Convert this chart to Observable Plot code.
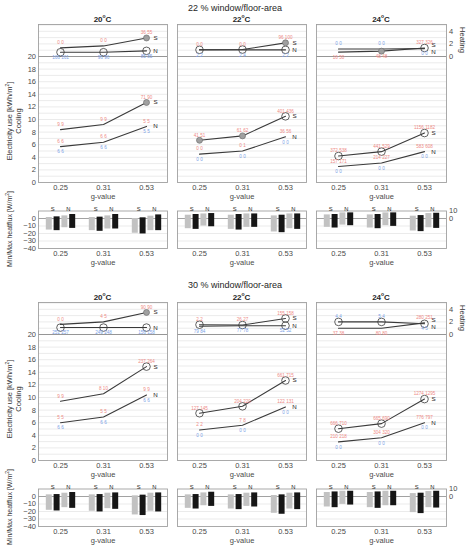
<!DOCTYPE html>
<html><head><meta charset="utf-8">
<script src="https://cdn.jsdelivr.net/npm/d3@7"></script>
<script src="https://cdn.jsdelivr.net/npm/@observablehq/plot@0.6"></script>
<style>
html,body{margin:0;padding:0;background:#fff;}
#root{position:relative;width:469px;height:550px;overflow:hidden;font-family:"Liberation Sans",Arial,Helvetica,sans-serif;color:#262626;}
#root svg{position:absolute;left:0;}
.lbl{position:absolute;white-space:nowrap;line-height:1.15;text-align:center;}
</style></head><body><div id="root"></div>
<script>
// ---------------- data ----------------
const gValues = ["0.25", "0.31", "0.53"];
const temperatures = ["20", "22", "24"];
const areaTitles = ["22 % window/floor-area", "30 % window/floor-area"];
const barKinds = ["S-min/max-a", "S-min/max-b", "N-min/max-a", "N-min/max-b"];

// electricity use [kWh/m²], rows = 20/22/24 °C, columns = g-value
const heatS22 = [[1.37, 1.68, 2.94], [1.06, 1.1, 2.17], [0.7, 0.85, 1.35]];
const heatN22 = [[0.68, 0.68, 0.9], [1.06, 1.06, 1.06], [1.2, 1.2, 1.25]];
const coolS22 = [[8.4, 9.2, 12.7], [6.7, 7.4, 10.5], [4.2, 4.9, 7.85]];
const coolN22 = [[5.7, 6.4, 8.9], [4.5, 5.0, 7.25], [2.55, 3.1, 4.9]];
const heatS30 = [[1.6, 2.0, 3.5], [1.55, 1.5, 2.55], [1.0, 1.0, 1.85]];
const heatN30 = [[1.1, 1.1, 1.1], [1.3, 1.4, 1.4], [2.0, 2.0, 1.7]];
const coolS30 = [[9.4, 10.6, 14.9], [7.5, 8.6, 12.7], [5.05, 5.85, 9.75]];
const coolN30 = [[6.0, 6.9, 10.4], [4.85, 5.6, 8.5], [2.95, 3.6, 6.0]];

// point markers: o = open circle, f = filled, - = none
const mkHeatS22 = [["-", "-", "f"], ["o", "o", "f"], ["-", "f", "o"]];
const mkHeatN22 = [["o", "o", "o"], ["-", "-", "o"], ["-", "-", "-"]];
const mkCoolS22 = [["-", "-", "f"], ["f", "f", "o"], ["o", "o", "o"]];
const mkHeatS30 = [["-", "-", "f"], ["o", "o", "o"], ["-", "-", "-"]];
const mkHeatN30 = [["o", "o", "o"], ["-", "-", "o"], ["o", "o", "o"]];
const mkCoolS30 = [["-", "-", "o"], ["o", "o", "o"], ["o", "o", "o"]];

// small point annotations (red = S-type, blue = N-type)
const labHeatS22 = [["0 0", "0 0", "36 55"], ["0 0", "0 0", "96 100"], ["16 50", "48 48", "327 326"]];
const labHeatN22 = [["166 161", "96 96", "85 85"], ["2 2", "2 4", "2 2"], ["0 0", "0 0", "0 0"]];
const labCoolS22 = [["9 9", "9 9", "71 90"], ["41 51", "61 62", "401 436"], ["372 538", "441 529", "1156 1182"]];
const labCoolNr22 = [["6 6", "6 6", "5 5"], ["0 0", "0 1", "36 56"], ["157 171", "214 227", "583 608"]];
const labCoolNb22 = [["6 6", "6 6", "5 5"], ["0 0", "0 0", "0 0"], ["0 0", "0 0", "0 0"]];
const labHeatS30 = [["0 0", "4 5", "90 90"], ["2 2", "26 27", "155 158"], ["37 38", "80 80", "280 251"]];
const labHeatN30 = [["251 257", "249 248", "156 158"], ["79 84", "77 78", "52 52"], ["4 4", "5 4", "4 5"]];
const labCoolS30 = [["9 9", "8 10", "237 264"], ["127 145", "204 220", "661 715"], ["666 710", "665 690", "1274 1295"]];
const labCoolNr30 = [["5 5", "5 5", "9 9"], ["2 2", "7 8", "122 131"], ["210 218", "304 320", "776 797"]];
const labCoolNb30 = [["6 6", "6 6", "6 6"], ["0 0", "0 0", "0 0"], ["0 0", "0 0", "0 0"]];

// min/max heat flux [W/m²]: [temperature][g-value][S-a, S-b, N-a, N-b]
const fluxMax22 = [
  [[1.3, 2.2, 3.5, 5.3], [1.3, 1.8, 3.5, 5.3], [0, 0.9, 3.1, 4.8]],
  [[4.4, 5.3, 6.1, 6.6], [4.4, 5.3, 6.1, 6.1], [3.5, 4.4, 6.1, 6.1]],
  [[4.8, 5.3, 7.5, 7.5], [4.8, 5.3, 7.5, 7.5], [3.1, 3.9, 6.6, 7.0]]];
const fluxMin22 = [
  [[-15.4, -16.2, -12.3, -13.2], [-16.2, -17.1, -14.0, -14.0], [-19.7, -20.6, -16.2, -16.2]],
  [[-13.6, -14.5, -10.1, -11.0], [-14.5, -15.4, -11.8, -11.8], [-18.0, -18.9, -13.6, -14.5]],
  [[-11.8, -12.7, -8.8, -9.6], [-12.7, -13.6, -9.6, -10.5], [-16.7, -17.5, -12.3, -13.2]]];
const fluxMax30 = [
  [[2.2, 2.6, 4.4, 5.3], [2.2, 2.6, 4.4, 4.8], [0.9, 1.8, 4.4, 4.8]],
  [[2.2, 2.6, 4.8, 5.7], [2.2, 2.6, 4.4, 4.8], [1.3, 2.2, 4.4, 4.8]],
  [[5.3, 6.1, 7.0, 7.0], [5.3, 6.1, 7.0, 7.0], [3.9, 4.4, 6.6, 7.0]]];
const fluxMin30 = [
  [[-18.4, -19.3, -14.9, -15.8], [-19.7, -20.6, -16.2, -17.1], [-24.6, -25.4, -19.7, -20.6]],
  [[-15.8, -16.7, -12.3, -13.2], [-16.7, -17.5, -13.2, -14.0], [-22.4, -23.7, -16.7, -17.5]],
  [[-14.0, -14.9, -10.5, -11.4], [-14.9, -15.8, -12.3, -12.3], [-21.5, -22.8, -14.9, -15.4]]];

// ---------------- layout ----------------
const halves = [
  {title: areaTitles[0], heatS: heatS22, heatN: heatN22, coolS: coolS22, coolN: coolN22,
   mkHeatS: mkHeatS22, mkHeatN: mkHeatN22, mkCoolS: mkCoolS22,
   labHeatS: labHeatS22, labHeatN: labHeatN22, labCoolS: labCoolS22, labCoolNr: labCoolNr22, labCoolNb: labCoolNb22,
   fluxMax: fluxMax22, fluxMin: fluxMin22},
  {title: areaTitles[1], heatS: heatS30, heatN: heatN30, coolS: coolS30, coolN: coolN30,
   mkHeatS: mkHeatS30, mkHeatN: mkHeatN30, mkCoolS: mkCoolS30,
   labHeatS: labHeatS30, labHeatN: labHeatN30, labCoolS: labCoolS30, labCoolNr: labCoolNr30, labCoolNb: labCoolNb30,
   fluxMax: fluxMax30, fluxMin: fluxMin30}
];

const root = document.getElementById("root");
const W = 469;
const colX = [[38, 167], [177, 306], [316, 446]];
const halfOffset = [0, 277.5];
const FONT = '"Liberation Sans", Arial, Helvetica, sans-serif';
const RED = "#ee8a86", BLUE = "#7b9fe6";
const HEAT_OFFSET = 20;
const TICK = "#4a4a4a";

function addLabel(html, cx, cy, o = {}) {
  const d = document.createElement("div");
  d.className = "lbl";
  d.innerHTML = html;
  d.style.left = cx + "px";
  d.style.top = cy + "px";
  d.style.fontSize = (o.size || 7.5) + "px";
  d.style.fontWeight = o.bold ? "bold" : "normal";
  d.style.color = o.color || "#262626";
  d.style.transform = `translate(-50%,-50%) rotate(${o.rotate || 0}deg)`;
  root.appendChild(d);
}

function place(svg, top) {
  svg.style.top = top + "px";
  root.appendChild(svg);
}

const plotStyle = {background: "transparent", fontFamily: FONT, fontSize: "7.5px", color: TICK, overflow: "visible"};

function linePanel(H, t, top) {
  const [x0, x1] = colX[t];
  const pts = [];
  const above = [], below = [];
  gValues.forEach((g, i) => {
    const cs = H.coolS[t][i], cn = H.coolN[t][i];
    const hs = H.heatS[t][i] + HEAT_OFFSET, hn = H.heatN[t][i] + HEAT_OFFSET;
    pts.push({g, y: cs, s: "coolS", m: H.mkCoolS[t][i]});
    pts.push({g, y: cn, s: "coolN", m: "-"});
    pts.push({g, y: hs, s: "heatS", m: H.mkHeatS[t][i]});
    pts.push({g, y: hn, s: "heatN", m: H.mkHeatN[t][i]});
    above.push({g, y: cs, text: H.labCoolS[t][i], c: RED});
    above.push({g, y: cn, text: H.labCoolNr[t][i], c: RED});
    below.push({g, y: cn, text: H.labCoolNb[t][i], c: BLUE});
    if (hs >= hn) {
      above.push({g, y: hs, text: H.labHeatS[t][i], c: RED});
      below.push({g, y: hn, text: H.labHeatN[t][i], c: BLUE});
    } else {
      below.push({g, y: hs, text: H.labHeatS[t][i], c: RED});
      above.push({g, y: hn, text: H.labHeatN[t][i], c: BLUE});
    }
  });
  const last = gValues[gValues.length - 1];
  const endOf = s => pts.filter(p => p.s === s && p.g === last);
  const hsEnd = endOf("heatS")[0].y, hnEnd = endOf("heatN")[0].y;
  const close = Math.abs(hsEnd - hnEnd) < 0.9;
  const sUp = hsEnd >= hnEnd;
  const endLabel = (s, txt, dy) => Plot.text(endOf(s), {x: "g", y: "y", text: () => txt, dx: 9, dy, fontSize: 6.2, fill: "#262626"});

  const svg = Plot.plot({
    width: W, height: 192,
    marginLeft: x0, marginRight: W - x1, marginTop: 10, marginBottom: 24,
    style: plotStyle,
    x: {type: "point", domain: gValues, padding: 0.5, label: null, tickSize: 0, tickPadding: 2},
    y: {domain: [0, 25.08], label: null, tickSize: 0, tickPadding: 2.5,
        axis: t === 0 ? "left" : t === 2 ? "right" : null,
        ticks: t === 0 ? d3.range(0, 21, 2) : [20, 22, 24],
        tickFormat: t === 0 ? (d => String(d)) : (d => String(d - HEAT_OFFSET))},
    marks: [
      Plot.ruleY(d3.range(1, 26).filter(v => v !== 20), {stroke: "#e2e2e2", strokeWidth: 0.7}),
      Plot.ruleY([HEAT_OFFSET], {stroke: "#8a8a8a", strokeWidth: 0.9}),
      Plot.frame({stroke: "#a0a0a0", strokeWidth: 0.9}),
      Plot.line(pts, {x: "g", y: "y", z: "s", stroke: "#3a3a3a", strokeWidth: 1.1}),
      Plot.dot(pts.filter(p => p.m === "o"), {x: "g", y: "y", r: 3.8, stroke: "#3a3a3a", fill: "none", strokeWidth: 0.8}),
      Plot.dot(pts.filter(p => p.m === "f"), {x: "g", y: "y", r: 3, stroke: "#707070", fill: "#a0a0a0", strokeWidth: 0.7}),
      Plot.text(above, {x: "g", y: "y", text: "text", fill: "c", dy: -5.2, fontSize: 4.6}),
      Plot.text(below, {x: "g", y: "y", text: "text", fill: "c", dy: 5.2, fontSize: 4.6}),
      endLabel("coolS", "S", 0),
      endLabel("coolN", "N", 0),
      endLabel("heatS", "S", close ? (sUp ? -3 : 3) : 0),
      endLabel("heatN", "N", close ? (sUp ? 3 : -3) : 0),
      Plot.text(["g-value"], {frameAnchor: "bottom", dy: 16, text: d => d, fontSize: 7.5, fill: TICK})
    ]
  });
  place(svg, top);
}

function barPanel(H, t, top) {
  const [x0, x1] = colX[t];
  const rows = [];
  gValues.forEach((g, i) => barKinds.forEach((k, j) => {
    rows.push({g, k: j, min: H.fluxMin[t][i][j], max: H.fluxMax[t][i][j]});
  }));
  const offsets = [-11.7, -3.9, 3.9, 11.7];
  const colors = ["#c2c2c2", "#161616", "#c2c2c2", "#161616"];
  const svg = Plot.plot({
    width: W, height: 74,
    marginLeft: x0, marginRight: W - x1, marginTop: 12.5, marginBottom: 24,
    style: plotStyle,
    x: {type: "point", domain: gValues, padding: 0.5, label: null, tickSize: 0, tickPadding: 2},
    y: {domain: [-40, 10], label: null, tickSize: 0, tickPadding: 2.5,
        axis: t === 0 ? "left" : t === 2 ? "right" : null,
        ticks: t === 0 ? [0, -10, -20, -30, -40] : [10, 0]},
    marks: [
      Plot.ruleY([-10, -20, -30], {stroke: "#e2e2e2", strokeWidth: 0.7}),
      Plot.ruleY([0], {stroke: "#8a8a8a", strokeWidth: 0.8}),
      ...barKinds.map((k, j) => Plot.ruleX(rows.filter(r => r.k === j),
        {x: "g", y1: "min", y2: "max", stroke: colors[j], strokeWidth: 6, dx: offsets[j]})),
      Plot.frame({stroke: "#a0a0a0", strokeWidth: 0.9}),
      Plot.text(gValues, {x: d => d, frameAnchor: "top", dy: -4.5, dx: -7.8, text: () => "S", fontSize: 5.8, fill: "#262626"}),
      Plot.text(gValues, {x: d => d, frameAnchor: "top", dy: -4.5, dx: 7.8, text: () => "N", fontSize: 5.8, fill: "#262626"}),
      Plot.text(["g-value"], {frameAnchor: "bottom", dy: 16, text: d => d, fontSize: 7.5, fill: TICK})
    ]
  });
  place(svg, top);
}

halves.forEach((H, h) => {
  const oy = halfOffset[h];
  addLabel(H.title, 235, oy + 7.5, {size: 9});
  temperatures.forEach((tp, t) => {
    const cx = (colX[t][0] + colX[t][1]) / 2;
    addLabel(`${tp}<sup style="font-size:5px;vertical-align:4px">o</sup>C`, cx, oy + 19, {size: 8, bold: true});
    linePanel(H, t, oy + 14);
    barPanel(H, t, oy + 198);
  });
  addLabel("Electricity use [kWh/m<sup style=\"font-size:5px;vertical-align:3px\">2</sup>]<br>Cooling", 14, oy + 121, {size: 7.5, rotate: -90, color: "#333"});
  addLabel("Heating", 462, oy + 40, {size: 7.5, rotate: 90, color: "#333"});
  addLabel("Min/Max heatflux [W/m<sup style=\"font-size:5px;vertical-align:3px\">2</sup>]", 10, oy + 229, {size: 7, rotate: -90, color: "#333"});
});
</script>
</body></html>
